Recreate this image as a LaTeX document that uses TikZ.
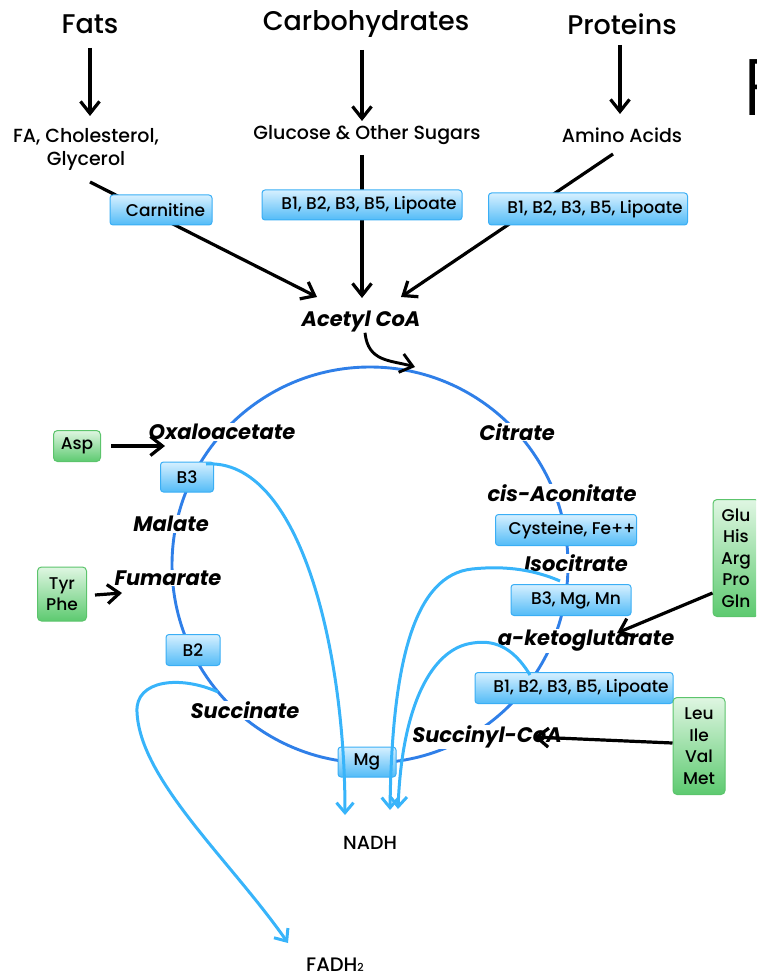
\documentclass[tikz,border=0pt]{standalone}
\usepackage{fontspec}
\setmainfont{Poppins}[UprightFont={* Medium}, BoldFont={* Bold}, ItalicFont={* Italic}, BoldItalicFont={* Bold Italic}]
\newfontfamily\plight{Poppins Light}
\usetikzlibrary{arrows.meta}
\definecolor{cyc}{HTML}{2F7FE8}
\definecolor{lcurve}{HTML}{38B4FA}
\definecolor{bxbord}{HTML}{3AAEF5}
\definecolor{bxtop}{HTML}{D6F0FF}
\definecolor{bxbot}{HTML}{52BBF7}
\definecolor{gnbord}{HTML}{5CC46C}
\definecolor{gntop}{HTML}{DFF6E2}
\definecolor{gnbot}{HTML}{5DCA70}
\tikzset{
  title/.style={font=\fontsize{27}{30}\selectfont, inner sep=0pt},
  sublab/.style={font=\fontsize{19}{23}\selectfont, inner sep=0pt, align=center},
  cyclab/.style={font=\bfseries\itshape\fontsize{21}{24}\selectfont, fill=white, inner sep=1pt},
  bbox/.style={draw=bxbord, line width=1pt, rounded corners=3pt, top color=bxtop, bottom color=bxbot, font=\fontsize{17}{18}\selectfont, inner sep=0pt},
  gbox/.style={draw=gnbord, line width=1pt, rounded corners=4pt, top color=gntop, bottom color=gnbot, font=\fontsize{17}{21.5}\selectfont, inner sep=0pt, align=center},
  blk/.style={line width=3.2pt, -{Straight Barb[length=12pt,width=19pt]}},
  lblue/.style={draw=lcurve, line width=3pt, -{Straight Barb[length=10pt,width=17pt]}},
}
\begin{document}
\begin{tikzpicture}[x=1pt,y=-1pt]
\useasboundingbox (0,0) rectangle (756,976);
\clip (0,0) rectangle (756,976);

% titles
\node[title] (fats) at (90,24) {Fats};
\node[title] (carb) at (366,24) {Carbohydrates};
\node[title] (prot) at (622,24) {Proteins};
\node[font=\plight\fontsize{80}{82}\selectfont, inner sep=0pt, anchor=base west] (ftitle) at (743,116) {F};

% sub labels
\node[sublab] (fa) at (86,149) {FA, Cholesterol,\\Glycerol};
\node[sublab] (glu) at (367,135) {Glucose \& Other Sugars};
\node[sublab] (amino) at (622,135) {Amino Acids};

% coordinates for connector ends
\coordinate (fatsout) at (90,48);
\coordinate (fain) at (90,116);
\coordinate (carbout) at (362,50);
\coordinate (gluin) at (362,121);
\coordinate (protout) at (620,45);
\coordinate (aminoin) at (620,114);
\coordinate (faout) at (90,182);
\coordinate (gluout) at (362,155);
\coordinate (aminoout) at (613,154);
\coordinate (acL) at (317,297);
\coordinate (acM) at (362,298);
\coordinate (acR) at (401,297);

\draw[blk] (fatsout) -- (fain);
\draw[blk] (carbout) -- (gluin);
\draw[blk] (protout) -- (aminoin);
\draw[blk] (faout) -- (acL);
\draw[blk] (gluout) -- (acM);
\draw[blk] (aminoout) -- (acR);

% top boxes
\node[bbox, minimum width=102pt, minimum height=30pt] (carn) at (161,210) {\hspace{9pt}Carnitine};
\node[bbox, minimum width=200pt, minimum height=30pt] (bc) at (362,205) {\hspace{14pt}B1, B2, B3, B5, Lipoate};
\node[bbox, minimum width=199pt, minimum height=32pt] (bp) at (588,209) {\hspace{14pt}B1, B2, B3, B5, Lipoate};

% Acetyl CoA
\node[cyclab, fill=none] (acoa) at (361,322) {Acetyl CoA};

% cycle
\draw[cyc, line width=2.9pt] (370,565) circle[radius=198pt];
\coordinate (cin) at (415,367);
\draw[blk, line width=2.9pt] (acoa.south) ++(4,-1) .. controls (368,362) and (390,360) .. (cin);

% cycle labels
\node[cyclab] (oxa) at (222,432) {Oxaloacetate};
\node[cyclab] (cit) at (517,432) {Citrate};
\node[cyclab] (cis) at (562,493) {cis-Aconitate};
\node[cyclab] (iso) at (576,563) {Isocitrate};
\node[cyclab] (akg) at (586,641) {a-ketoglutarate};
\node[cyclab] (scoa) at (487,737) {Succinyl-CoA};
\node[cyclab] (succ) at (245,710) {Succinate};
\node[cyclab] (fum) at (168,578) {Fumarate};
\node[cyclab] (mal) at (171,524) {Malate};

% cycle boxes
\node[bbox, minimum width=53pt, minimum height=30pt] (b3) at (187,477) {B3};
\node[bbox, minimum width=54pt, minimum height=31pt] (b2) at (193,650) {B2};
\node[bbox, minimum width=58pt, minimum height=30pt] (mg) at (367,762) {Mg};
\node[bbox, minimum width=141pt, minimum height=31pt] (cys) at (566,530) {\hspace{12pt}Cysteine, Fe++};
\node[bbox, minimum width=120pt, minimum height=31pt] (bmm) at (571,600) {\hspace{10pt}B3, Mg, Mn};
\node[bbox, minimum width=198pt, minimum height=31pt] (bk) at (574,688) {\hspace{14pt}B1, B2, B3, B5, Lipoate};

% products
\node[font=\fontsize{19}{22}\selectfont, inner sep=1pt] (nadh) at (370,843) {NADH};
\node[font=\fontsize{19.5}{22}\selectfont, inner sep=0pt, anchor=base] (fadh) at (335,971) {FADH{\fontsize{11}{11}\selectfont 2}};

% light blue curves
\coordinate (b3out) at (206,464);
\coordinate (n1) at (345,815);
\coordinate (isoout) at (560,581);
\coordinate (n2) at (390,810);
\coordinate (akgout) at (530,675);
\coordinate (n3) at (398,809);
\coordinate (succout) at (218,692);
\coordinate (f1) at (288,943);
\draw[lblue] (b3out) .. controls (300,458) and (345,650) .. (n1);
\draw[lblue] (isoout) .. controls (530,568) and (500,566) .. (472,569) .. controls (415,575) and (392,660) .. (n2);
\draw[lblue] (akgout) .. controls (512,645) and (492,640) .. (473,643) .. controls (432,648) and (402,705) .. (n3);
\draw[lblue] (succout) .. controls (180,675) and (135,680) .. (137,712) .. controls (140,780) and (230,860) .. (f1);

% green boxes
\node[gbox, minimum width=47pt, minimum height=31pt] (asp) at (77,446) {Asp};
\node[gbox, minimum width=49pt, minimum height=54pt] (tyr) at (62,594) {Tyr\\Phe};
\node[gbox, minimum width=46pt, minimum height=117pt] (gluaa) at (736,558) {Glu\\His\\Arg\\Pro\\Gln};
\node[gbox, minimum width=52pt, minimum height=97pt] (leu) at (699,746) {Leu\\Ile\\Val\\Met};

\coordinate (oxain) at (165,446);
\coordinate (fumin) at (122,593);
\coordinate (akgin) at (617,633);
\coordinate (scoain) at (534,737);
\draw[blk] ([xshift=10pt]asp.east) -- (oxain);
\draw[blk] ([xshift=8pt,yshift=-1pt]tyr.east) -- (fumin);
\draw[blk] ([yshift=-35pt]gluaa.west) -- (akgin);
\draw[blk] ([yshift=3pt]leu.west) -- (scoain);
\end{tikzpicture}
\end{document}
